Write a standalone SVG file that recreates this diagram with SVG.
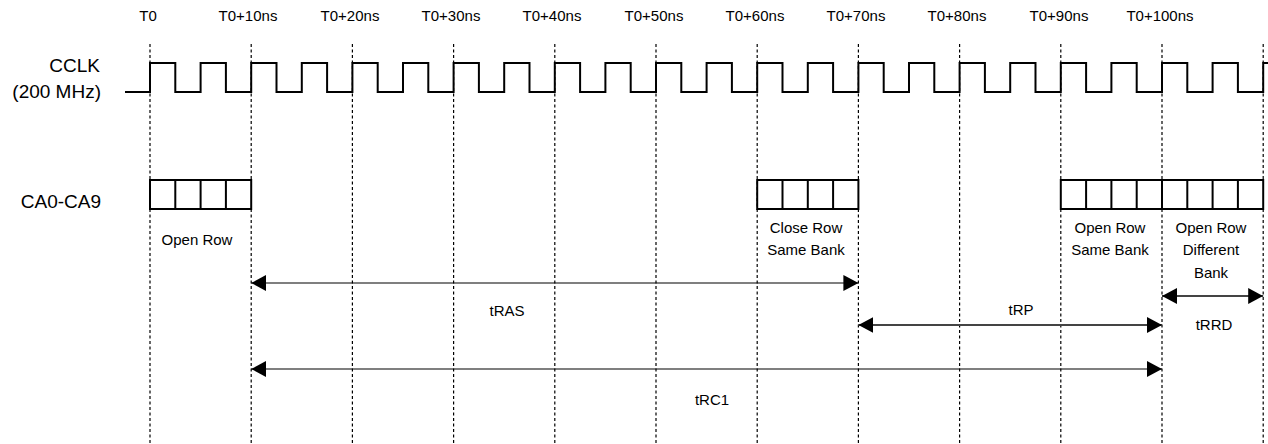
<svg xmlns="http://www.w3.org/2000/svg" width="1268" height="444" viewBox="0 0 1268 444">
<style>
text{font-family:"Liberation Sans",Arial,sans-serif;fill:#000}
.t{font-size:15px;text-anchor:middle}
.sig{font-size:19px;text-anchor:end}
.lbl{font-size:15px;text-anchor:middle}
.grid{stroke:#000;stroke-width:1.2;stroke-dasharray:3,2.5;fill:none}
.clk{stroke:#000;stroke-width:2;fill:none}
.box{stroke:#000;stroke-width:2;fill:#fff}
.cell{stroke:#000;stroke-width:2}
.arr{stroke:#000;stroke-width:1.2;fill:none;marker-start:url(#ah);marker-end:url(#ah)}
.arrg{stroke:#444;stroke-width:2;fill:none;marker-start:url(#ah);marker-end:url(#ah)}
</style>
<defs>
<marker id="ah" viewBox="0 0 15 16" refX="15" refY="8" markerWidth="15" markerHeight="16" orient="auto-start-reverse" markerUnits="userSpaceOnUse">
<path d="M0,0 L15,8 L0,16 z" fill="#000"/>
</marker>
</defs>
<rect width="1268" height="444" fill="#fff"/>
<g id="timeLabels">
<text class="t" x="148" y="21">T0</text>
<text class="t" x="248" y="21">T0+10ns</text>
<text class="t" x="350" y="21">T0+20ns</text>
<text class="t" x="451" y="21">T0+30ns</text>
<text class="t" x="552" y="21">T0+40ns</text>
<text class="t" x="654" y="21">T0+50ns</text>
<text class="t" x="755" y="21">T0+60ns</text>
<text class="t" x="856" y="21">T0+70ns</text>
<text class="t" x="957" y="21">T0+80ns</text>
<text class="t" x="1059" y="21">T0+90ns</text>
<text class="t" x="1160" y="21">T0+100ns</text>
</g>
<g id="grid">
<line class="grid" x1="150" y1="44" x2="150" y2="444"/>
<line class="grid" x1="251.2" y1="44" x2="251.2" y2="444"/>
<line class="grid" x1="352.4" y1="44" x2="352.4" y2="444"/>
<line class="grid" x1="453.6" y1="44" x2="453.6" y2="444"/>
<line class="grid" x1="554.8" y1="44" x2="554.8" y2="444"/>
<line class="grid" x1="656" y1="44" x2="656" y2="444"/>
<line class="grid" x1="757.2" y1="44" x2="757.2" y2="444"/>
<line class="grid" x1="858.4" y1="44" x2="858.4" y2="444"/>
<line class="grid" x1="959.6" y1="44" x2="959.6" y2="444"/>
<line class="grid" x1="1060.8" y1="44" x2="1060.8" y2="444"/>
<line class="grid" x1="1162" y1="44" x2="1162" y2="444"/>
<line class="grid" x1="1263.2" y1="44" x2="1263.2" y2="444"/>
</g>
<g id="cclk">
<text class="sig" x="100" y="72">CCLK</text>
<text class="sig" x="101" y="98">(200 MHz)</text>
<path class="clk" d="M125,92 H150 v-29 h25.3 v29 h25.3 v-29 h25.3 v29 h25.3 v-29 h25.3 v29 h25.3 v-29 h25.3 v29 h25.3 v-29 h25.3 v29 h25.3 v-29 h25.3 v29 h25.3 v-29 h25.3 v29 h25.3 v-29 h25.3 v29 h25.3 v-29 h25.3 v29 h25.3 v-29 h25.3 v29 h25.3 v-29 h25.3 v29 h25.3 v-29 h25.3 v29 h25.3 v-29 h25.3 v29 h25.3 v-29 h25.3 v29 h25.3 v-29 h25.3 v29 h25.3 v-29 h25.3 v29 h25.3 v-29 h25.3 v29 h25.3 v-29 h25.3 v29 h25.3 v-29 h25.3 v29 h25.3 v-29 h25.3 v29 h25.3 v-29 h25.3 v29 h25.3 v-29 h25.3 v29 h25.3 v-29 h25.3 v29 h25.3 H1268"/>
</g>
<g id="ca">
<text class="sig" x="101" y="208">CA0-CA9</text>
</g>
<g id="openRow">
<rect class="box" x="150" y="180" width="101.2" height="29"/>
<path class="cell" d="M175.3,180 v29 M200.6,180 v29 M225.9,180 v29"/>
<text class="lbl" x="197" y="245">Open Row</text>
</g>
<g id="closeRow">
<rect class="box" x="757.2" y="180" width="101.2" height="29"/>
<path class="cell" d="M782.5,180 v29 M807.8,180 v29 M833.1,180 v29"/>
<text class="lbl" x="806" y="233">Close Row</text>
<text class="lbl" x="806" y="255">Same Bank</text>
</g>
<g id="openRowSame">
<rect class="box" x="1060.8" y="180" width="101.2" height="29"/>
<path class="cell" d="M1086.1,180 v29 M1111.4,180 v29 M1136.7,180 v29"/>
<text class="lbl" x="1110" y="233">Open Row</text>
<text class="lbl" x="1110" y="255">Same Bank</text>
</g>
<g id="openRowDiff">
<rect class="box" x="1162" y="180" width="101.2" height="29"/>
<path class="cell" d="M1187.3,180 v29 M1212.6,180 v29 M1237.9,180 v29"/>
<text class="lbl" x="1211" y="233">Open Row</text>
<text class="lbl" x="1211" y="255">Different</text>
<text class="lbl" x="1211" y="278">Bank</text>
</g>
<g id="connectors">
<line class="arr" x1="251.2" y1="283" x2="858.4" y2="283"/>
<line class="arrg" x1="858.4" y1="325" x2="1162" y2="325"/>
<line class="arrg" x1="1162" y1="296" x2="1263.2" y2="296"/>
<line class="arr" x1="251.2" y1="369" x2="1162" y2="369"/>
</g>
<g id="timingLabels">
<text class="lbl" x="507" y="316">tRAS</text>
<text class="lbl" x="1021" y="315">tRP</text>
<text class="lbl" x="1214" y="330">tRRD</text>
<text class="lbl" x="712" y="405">tRC1</text>
</g>
</svg>
